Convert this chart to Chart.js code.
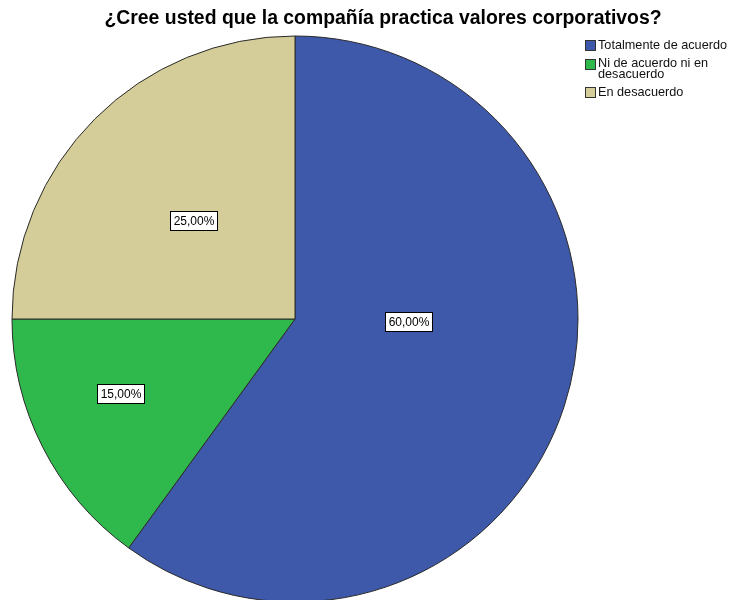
<!DOCTYPE html>
<html lang="es">
<head>
  <meta charset="UTF-8" />
  <title>Valores corporativos</title>
  <script src="https://cdn.jsdelivr.net/npm/chart.js"></script>
  <style>
    body {
      margin: 0;
      background: #ffffff;
    }
    canvas {
      display: block;
    }
  </style>
</head>
<body>
  <canvas id="pieChart" width="733" height="600"></canvas>

  <script>
    const chartTitle = '¿Cree usted que la compañía practica valores corporativos?';
    const categories = ['Totalmente de acuerdo', 'Ni de acuerdo ni en desacuerdo', 'En desacuerdo'];
    const legendLines = [['Totalmente de acuerdo'], ['Ni de acuerdo ni en', 'desacuerdo'], ['En desacuerdo']];
    const percents = [60, 15, 25];
    const colors = ['#3e58aa', '#2fb84b', '#d4cd99'];

    const fontFamily = '"Liberation Sans", Arial, sans-serif';

    // where each value box sits: t = fraction along the slice angle, r = fraction of radius
    const labelPlacement = [{ t: 0.422, r: 0.40 }, { t: 0.57, r: 0.67 }, { t: 0.49, r: 0.50 }];

    const decorations = {
      id: 'decorations',
      afterDraw(chart) {
        const ctx = chart.ctx;
        ctx.save();

        // title
        ctx.fillStyle = '#000';
        ctx.font = 'bold 19.4px ' + fontFamily;
        ctx.textAlign = 'center';
        ctx.textBaseline = 'middle';
        ctx.fillText(chartTitle, 383, 19);

        // value boxes
        const arcs = chart.getDatasetMeta(0).data;
        ctx.font = '12px ' + fontFamily;
        arcs.forEach((arc, i) => {
          const p = labelPlacement[i];
          const ang = arc.startAngle + (arc.endAngle - arc.startAngle) * p.t;
          const x = arc.x + Math.cos(ang) * arc.outerRadius * p.r;
          const y = arc.y + Math.sin(ang) * arc.outerRadius * p.r;
          const text = percents[i].toFixed(2).replace('.', ',') + '%';
          const w = Math.round(ctx.measureText(text).width) + 6;
          const h = 19;
          const bx = Math.round(x - w / 2) + 0.5;
          const by = Math.round(y - h / 2) + 0.5;
          ctx.fillStyle = '#fff';
          ctx.fillRect(bx, by, w, h);
          ctx.strokeStyle = '#000';
          ctx.lineWidth = 1;
          ctx.strokeRect(bx, by, w, h);
          ctx.fillStyle = '#000';
          ctx.textAlign = 'center';
          ctx.fillText(text, bx + w / 2, by + h / 2 + 1);
        });

        // legend
        ctx.textAlign = 'left';
        ctx.font = '12.7px ' + fontFamily;
        const lineGap = 11;
        let y = 45;
        legendLines.forEach((lines, i) => {
          const sq = 10;
          const sy = lines.length > 1 ? y - 4 : y - 5;
          ctx.fillStyle = colors[i];
          ctx.fillRect(585.5, Math.round(sy) + 0.5, sq, sq);
          ctx.strokeStyle = '#333';
          ctx.strokeRect(585.5, Math.round(sy) + 0.5, sq, sq);
          ctx.fillStyle = '#111';
          lines.forEach((line, j) => {
            ctx.fillText(line, 598, y + j * lineGap);
          });
          y += 18 + (lines.length - 1) * lineGap;
        });

        ctx.restore();
      }
    };

    new Chart(document.getElementById('pieChart'), {
      type: 'pie',
      data: {
        labels: categories,
        datasets: [{
          data: percents,
          backgroundColor: colors,
          borderColor: '#2a2a2a',
          borderWidth: 1,
          hoverOffset: 0
        }]
      },
      options: {
        responsive: false,
        animation: false,
        radius: 283,
        layout: {
          padding: { left: 12, right: 155, top: 38, bottom: 0 }
        },
        plugins: {
          legend: { display: false },
          tooltip: { enabled: false }
        }
      },
      plugins: [decorations]
    });
  </script>
</body>
</html>
